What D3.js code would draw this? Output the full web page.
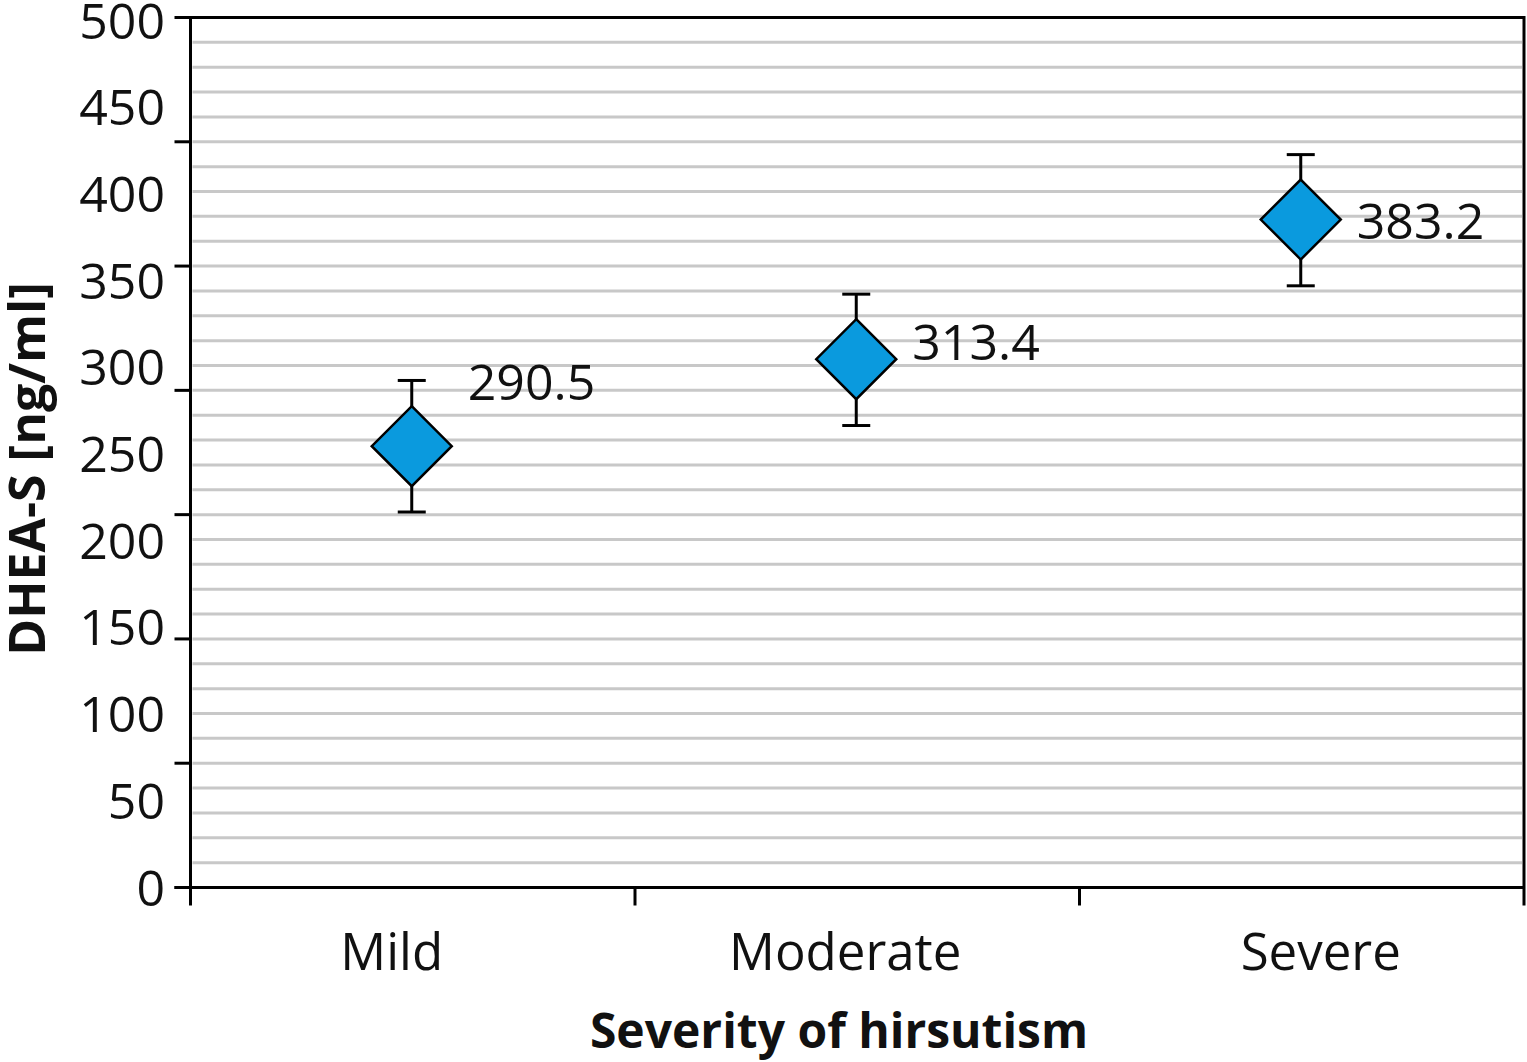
<!DOCTYPE html>
<html>
<head>
<meta charset="utf-8">
<script src="https://cdn.jsdelivr.net/npm/d3@7"></script>
<style>
  html, body { margin: 0; padding: 0; background: #fff; }
  svg { display: block; font-family: "Open Sans", "Noto Sans", sans-serif; }
</style>
</head>
<body>
<svg id="chart" width="1527" height="1062"></svg>
<script>
// ---- data ----
const categories = ["Mild", "Moderate", "Severe"];
const markerValues = [253.6, 303.6, 383.9];     // diamond positions as drawn
const errorLow = [215.8, 265.5, 345.8];
const errorHigh = [291.4, 341.0, 421.2];
const labelValues = [290.5, 313.4, 383.2];       // printed mean values
const yTickLabels = [0, 50, 100, 150, 200, 250, 300, 350, 400, 450, 500];
const majorTickCount = 7;     // axis tick marks
const gridCount = 35;         // horizontal gridline intervals

(function () {
const svg = d3.select("#chart");
const mLeft = 190.5, mRight = 1524, mTop = 17.5, mBottom = 887.5;
const catLabelShift = [-21, -12, 19];

const x = d3.scaleBand().domain(categories).range([mLeft, mRight]).padding(0);
const y = d3.scaleLinear().domain([0, 500]).range([mBottom, mTop]);
const yLab = d3.scaleLinear().domain([0, 500]).range([mBottom, mTop + 3]);

// gridlines
const gridVals = d3.range(1, gridCount).map(i => i * 500 / gridCount);
svg.append("g").selectAll("line").data(gridVals).join("line")
  .attr("x1", mLeft + 2).attr("x2", mRight - 2)
  .attr("y1", d => y(d)).attr("y2", d => y(d))
  .attr("stroke", "#c8c8c8").attr("stroke-width", 3);

// frame: top and right
svg.append("line").attr("x1", mLeft).attr("x2", mRight).attr("y1", mTop).attr("y2", mTop)
  .attr("stroke", "#000").attr("stroke-width", 3);
svg.append("line").attr("x1", mRight).attr("x2", mRight).attr("y1", mTop - 1.5).attr("y2", mBottom + 18)
  .attr("stroke", "#000").attr("stroke-width", 3);

// y axis line + major tick marks
svg.append("line").attr("x1", mLeft).attr("x2", mLeft).attr("y1", mTop - 1.5).attr("y2", mBottom + 18)
  .attr("stroke", "#000").attr("stroke-width", 3);
const majorVals = d3.range(0, majorTickCount + 1).map(i => i * 500 / majorTickCount);
svg.append("g").selectAll("line").data(majorVals).join("line")
  .attr("x1", mLeft - 16).attr("x2", mLeft)
  .attr("y1", d => y(d)).attr("y2", d => y(d))
  .attr("stroke", "#000").attr("stroke-width", 3);

// y tick labels
svg.append("g").selectAll("text").data(yTickLabels).join("text")
  .attr("x", 165).attr("y", d => yLab(d))
  .attr("dy", "0.36em")
  .attr("text-anchor", "end")
  .attr("font-size", 50)
  .attr("fill", "#111")
  .text(d => d);

// x axis
svg.append("line").attr("x1", mLeft - 16).attr("x2", mRight).attr("y1", mBottom).attr("y2", mBottom)
  .attr("stroke", "#000").attr("stroke-width", 3);
const xTickPos = categories.map(c => x(c));
svg.append("g").selectAll("line").data(xTickPos.slice(1)).join("line")
  .attr("x1", d => d).attr("x2", d => d)
  .attr("y1", mBottom).attr("y2", mBottom + 18)
  .attr("stroke", "#000").attr("stroke-width", 3);

// category labels
svg.append("g").selectAll("text").data(categories).join("text")
  .attr("x", (d, i) => x(d) + x.bandwidth() / 2 + catLabelShift[i])
  .attr("y", 952)
  .attr("dy", "0.36em")
  .attr("text-anchor", "middle")
  .attr("font-size", 51)
  .attr("fill", "#111")
  .text(d => d);

// axis titles
svg.append("text")
  .attr("x", 839).attr("y", 1031).attr("dy", "0.36em")
  .attr("text-anchor", "middle")
  .attr("font-size", 48).attr("font-weight", "bold")
  .attr("fill", "#111")
  .text("Severity of hirsutism");
svg.append("text")
  .attr("transform", "translate(27,469) rotate(-90)")
  .attr("dy", "0.36em")
  .attr("text-anchor", "middle")
  .attr("font-size", 50).attr("font-weight", "bold")
  .attr("fill", "#111")
  .text("DHEA-S [ng/ml]");

// points
const pts = categories.map((c, i) => ({
  cat: c, v: markerValues[i], lo: errorLow[i], hi: errorHigh[i], label: labelValues[i]
}));
const cx = d => x(d.cat) + x.bandwidth() / 2 - 1;
const g = svg.append("g");
g.selectAll(".eb").data(pts).join("line")
  .attr("x1", cx).attr("x2", cx)
  .attr("y1", d => y(d.lo)).attr("y2", d => y(d.hi))
  .attr("stroke", "#000").attr("stroke-width", 3);
g.selectAll(".capT").data(pts).join("line")
  .attr("x1", d => cx(d) - 14).attr("x2", d => cx(d) + 14)
  .attr("y1", d => y(d.hi)).attr("y2", d => y(d.hi))
  .attr("stroke", "#000").attr("stroke-width", 3);
g.selectAll(".capB").data(pts).join("line")
  .attr("x1", d => cx(d) - 14).attr("x2", d => cx(d) + 14)
  .attr("y1", d => y(d.lo)).attr("y2", d => y(d.lo))
  .attr("stroke", "#000").attr("stroke-width", 3);
const r = 40;
g.selectAll(".dia").data(pts).join("path")
  .attr("d", d => {
    const px = cx(d), py = y(d.v);
    const p = d3.path();
    p.moveTo(px, py - r); p.lineTo(px + r, py); p.lineTo(px, py + r); p.lineTo(px - r, py); p.closePath();
    return p.toString();
  })
  .attr("fill", "#0a9ade").attr("stroke", "#000").attr("stroke-width", 2.5);
g.selectAll(".lbl").data(pts).join("text")
  .attr("x", d => cx(d) + 56)
  .attr("y", d => y(d.label))
  .attr("dy", "0.36em")
  .attr("font-size", 50)
  .attr("fill", "#111")
  .text(d => d.label.toFixed(1));
})();
</script>
</body>
</html>
